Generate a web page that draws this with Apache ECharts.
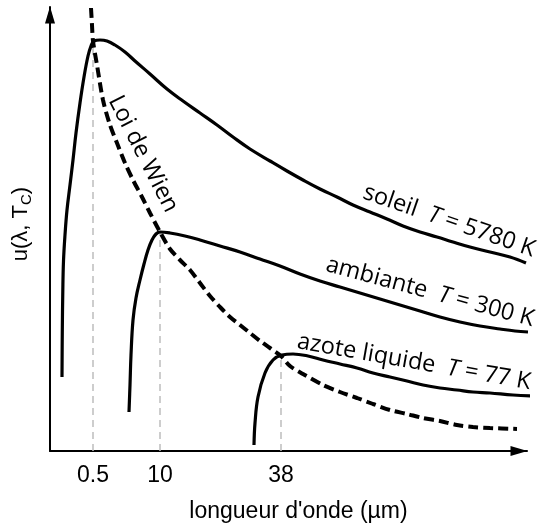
<!DOCTYPE html>
<html><head><meta charset="utf-8">
<script src="https://cdn.jsdelivr.net/npm/echarts@6/dist/echarts.min.js"></script>
<style>html,body{margin:0;padding:0;background:#fff}#c{width:539px;height:526px}</style>
</head><body><div id="c"></div>
<script>
// Schematic chart: arbitrary units (x along the wavelength axis, y = u)
const peakLabels = ['0.5', '10', '38'];
const peakX = [43, 110, 231];
const peakY = [410, 219, 95];

const soleil = [[12,74],[12.3,120],[12.8,160],[13.5,190],[15,216],[17,241],[20,266],[23,291],[26,318],[30,348],[34,374],[38,395],[41,405],[44,410],[50,411],[57,410],[65,406],[75,399],[85,390],[100,377],[117,362],[133,350],[150,338],[167,326],[183,314],[200,302],[220,290],[237,280],[253,271],[270,262],[287,254],[303,246],[320,239],[337,232],[353,225],[370,219],[387,214],[403,209],[420,204],[440,199],[460,194],[476,188]];

const ambiante = [[79,39],[80,66],[81,96],[83,131],[86,153],[90,171],[94,187],[98,201],[102,211],[106,217],[110,219],[120,218],[135,215],[150,211],[170,205],[190,199],[210,192],[230,185],[250,177],[270,170],[290,164],[310,158],[330,152],[350,146],[370,140],[390,134],[410,129],[430,125],[450,122],[465,120],[478,119]];

const azote = [[204,6],[205,28],[208,54],[215,78],[223,91],[232,96],[243,97],[258,95],[273,91],[290,87],[307,83],[323,78],[340,74],[357,70],[373,66],[390,63],[407,61],[423,59],[440,58],[463,56],[487,55]];

const wien = [[41,443],[42,426],[43,410],[47,386],[53,351],[60,326],[67,308],[75,288],[83,271],[92,254],[100,238],[110,219],[120,202],[130,191],[140,181],[150,168],[160,155],[170,144],[180,134],[190,126],[200,118],[210,110],[220,103],[231,95],[240,85],[253,77],[273,66],[290,59],[307,53],[323,47],[340,41],[357,37],[373,33],[390,30],[407,26],[423,24],[440,23],[467,22]];

const curveLabels = ['soleil  {i|T} = 5780 K', 'ambiante  {i|T} = 300 K', 'azote liquide  {i|T} = 77 K'];
const wienLabel = 'Loi de Wien';
const xTitle = "longueur d'onde (\u00b5m)";
const yTitle = 'u(\u03bb, T{s|C})';

const chart = echarts.init(document.getElementById('c'), null, {renderer: 'canvas'});
const deg = Math.PI / 180;
const labelFont = 'Open Sans';
const axisFont = 'Liberation Sans';
const labelSize = 23.5;

function curve(name, data) {
  return {name, type: 'line', data, smooth: 0.4, showSymbol: false, clip: false, z: 5,
    lineStyle: {color: '#000', width: 3.2}};
}

const grayLines = peakX.map((x, i) => ({
  type: 'line', data: [[x, 0], [x, peakY[i]]], showSymbol: false, z: 1, clip: false,
  lineStyle: {color: '#bdbdbd', width: 1.5, type: [7, 5]}
}));

const richI = {i: {fontStyle: 'italic', fontSize: labelSize, fontFamily: labelFont, fill: '#000'}};
function lbl(text, x, y, rot) {
  return {type: 'text', x, y, rotation: rot * deg, z: 10,
    style: {text, fontSize: labelSize, fontFamily: labelFont, fill: '#000', align: 'center', verticalAlign: 'middle', rich: richI}};
}

chart.setOption({
  animation: false,
  backgroundColor: '#fff',
  grid: {left: 50, right: 12, top: 7, bottom: 75, containLabel: false, outerBoundsMode: 'none'},
  xAxis: {
    type: 'value', min: 0, max: 477,
    axisLine: {show: true, onZero: false, symbol: ['none', 'triangle'], symbolSize: [10, 17], symbolOffset: [0, -8],
      lineStyle: {color: '#000', width: 2}},
    axisTick: {show: false}, splitLine: {show: false},
    axisLabel: {customValues: peakX, formatter: v => { const k = peakX.indexOf(v); return k >= 0 ? peakLabels[k] : ''; },
      fontSize: 23, fontFamily: axisFont, color: '#000', margin: 13},
    name: xTitle, nameLocation: 'middle', nameGap: 49,
    nameTextStyle: {fontSize: 23, fontFamily: axisFont, color: '#000', padding: [0, 0, 0, 20]}
  },
  yAxis: {
    type: 'value', min: 0, max: 444,
    axisLine: {show: true, onZero: false, symbol: ['none', 'triangle'], symbolSize: [10, 17], symbolOffset: [0, -8],
      lineStyle: {color: '#000', width: 2}},
    axisTick: {show: false}, splitLine: {show: false}, axisLabel: {show: false},
    name: yTitle, nameLocation: 'middle', nameRotate: 90, nameGap: 16,
    nameTextStyle: {fontSize: 22, fontFamily: axisFont, color: '#000', lineHeight: 26, verticalAlign: 'bottom',
      padding: [0, 0, 0, 10],
      rich: {s: {fontSize: 15, fontFamily: axisFont, color: '#000', verticalAlign: 'bottom', lineHeight: 20}}}
  },
  series: [
    ...grayLines,
    {name: 'Wien', type: 'line', data: wien, smooth: 0.3, showSymbol: false, clip: false, z: 4,
      lineStyle: {color: '#000', width: 4, type: [10, 5]}},
    curve('soleil', soleil),
    curve('ambiante', ambiante),
    curve('azote', azote)
  ],
  graphic: [
    lbl(curveLabels[0], 449, 221, -19),
    lbl(curveLabels[1], 430, 292, -15),
    lbl(curveLabels[2], 414, 362, -10),
    lbl(wienLabel, 143, 154, -63)
  ]
});
</script>
</body></html>
